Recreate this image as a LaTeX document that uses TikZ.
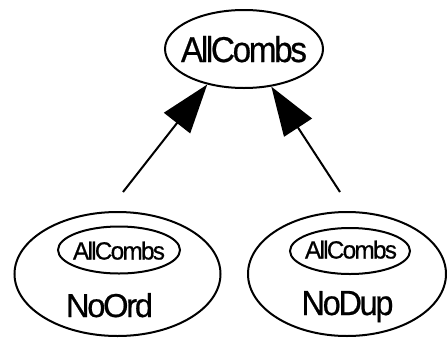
\documentclass[tikz,border=0pt]{standalone}
\usepackage{fontspec}
\setmainfont{Liberation Sans}
\newfontfamily\tightsans{Liberation Sans}[LetterSpace=-7,FakeBold=0.6]
\usepackage{graphicx}
\usetikzlibrary{shapes.geometric,arrows.meta}
% set a word to an exact width and height (in pt)
\newcommand{\fitword}[3]{\resizebox{#1pt}{#2pt}{\tightsans #3}}
\begin{document}
\begin{tikzpicture}[x=1pt,y=-1pt,
  oval/.style={draw=black,ellipse,line width=2pt,inner sep=0pt},
  word/.style={inner sep=0pt,anchor=base},
  inherit/.style={-{Triangle[length=49pt,width=33pt]},line width=2pt}]
\useasboundingbox (0,0) rectangle (447,338);

% parent class
\node[oval,minimum width=158pt,minimum height=78pt] (top) at (244,49) {};
\node[word] (toplbl) at (244,62) {\fitword{126}{26}{AllCombs}};

% NoOrd with its embedded AllCombs
\node[oval,minimum width=206pt,minimum height=124pt] (noord) at (117.5,274) {};
\node[oval,minimum width=122pt,minimum height=47pt] (noordin) at (119,250) {};
\node[word] (noordinlbl) at (119,259.5) {\fitword{92}{18}{AllCombs}};
\node[word] (noordlbl) at (109.5,317) {\fitword{87}{24}{NoOrd}};

% NoDup with its embedded AllCombs
\node[oval,minimum width=198pt,minimum height=124pt] (nodup) at (347,274) {};
\node[oval,minimum width=120pt,minimum height=46pt] (nodupin) at (350,251) {};
\node[word] (nodupinlbl) at (351,258.5) {\fitword{92}{18}{AllCombs}};
\node[word] (noduplbl) at (347.5,315) {\fitword{92}{24}{NoDup}};

% inheritance edges
\coordinate (lt) at (123,192);
\coordinate (rt) at (340,192);
\draw[inherit] (lt) -- (top.224);
\draw[inherit] (rt) -- (top.306);
\end{tikzpicture}
\end{document}
